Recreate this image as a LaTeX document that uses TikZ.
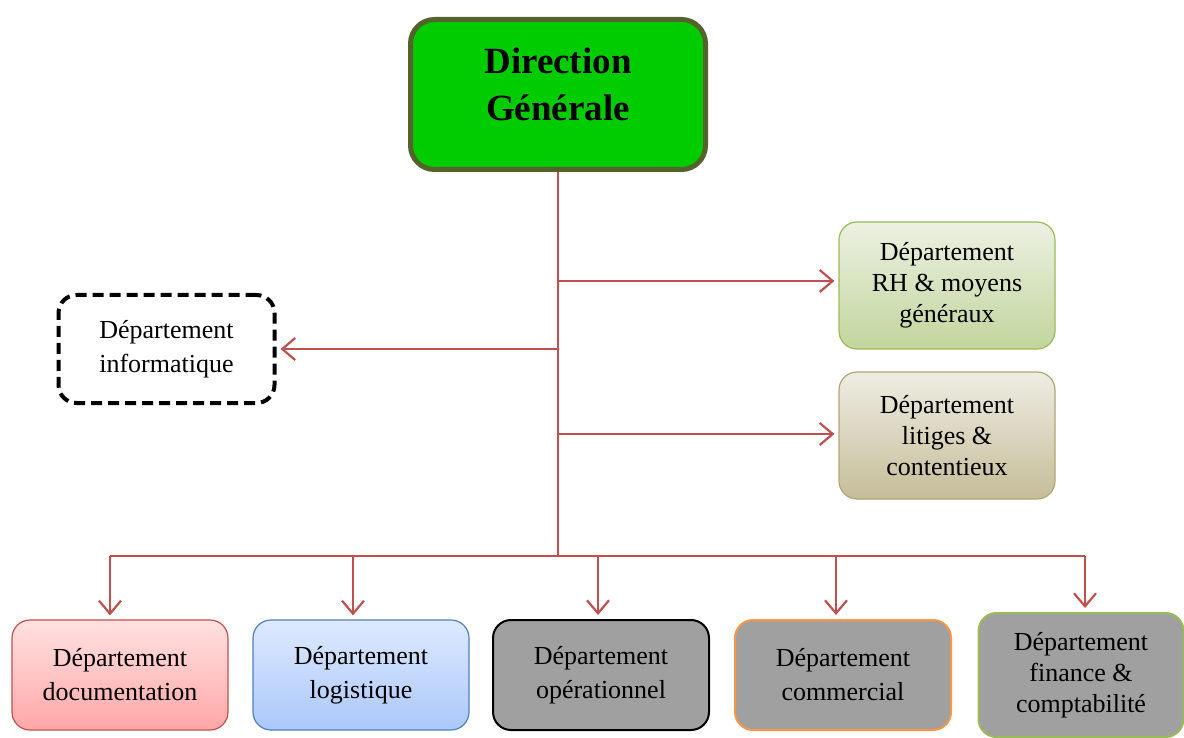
\documentclass[tikz,border=0pt]{standalone}
\usepackage{fontspec}
\setmainfont{Liberation Serif}
\usetikzlibrary{arrows.meta}
\definecolor{linkred}{RGB}{192,80,77}
\definecolor{dgfill}{RGB}{0,204,0}
\definecolor{dgline}{RGB}{84,98,44}
\definecolor{rhtop}{RGB}{236,241,226}
\definecolor{rhbot}{RGB}{194,213,156}
\definecolor{rhline}{RGB}{155,187,89}
\definecolor{littop}{RGB}{239,237,228}
\definecolor{litbot}{RGB}{197,189,152}
\definecolor{litline}{RGB}{176,166,118}
\definecolor{doctop}{RGB}{255,226,226}
\definecolor{docbot}{RGB}{255,166,166}
\definecolor{logtop}{RGB}{222,233,255}
\definecolor{logbot}{RGB}{170,200,250}
\definecolor{logline}{RGB}{79,129,189}
\definecolor{boxgray}{RGB}{160,160,160}
\definecolor{comline}{RGB}{247,150,70}

\begin{document}
\begin{tikzpicture}[x=1pt, y=-1pt, >={Straight Barb[length=13pt,width=22pt]},
  dept/.style={rounded corners=18pt, minimum width=216pt, minimum height=110pt,
    align=center, font=\fontsize{26}{34}\selectfont, line width=1.2pt},
  link/.style={linkred, line width=2.2pt},
  arr/.style={link, ->, shorten >=4pt}]
  \useasboundingbox (0,0) rectangle (1184,738);
  % top
  \node[rounded corners=24pt, minimum width=295pt, minimum height=150pt,
    fill=dgfill, draw=dgline, line width=5pt, align=center,
    font=\fontsize{37}{47}\selectfont\bfseries] (dg) at (558,94.5)
    {Direction\\Générale\\[-26pt]};
  % side departments
  \node[dept, minimum height=127pt, font=\fontsize{26}{31}\selectfont,
    draw=rhline, top color=rhtop, bottom color=rhbot]
    (rh) at (947,285.5) {Département\\RH \& moyens\\généraux};
  \node[dept, minimum height=127pt, font=\fontsize{26}{31}\selectfont,
    draw=litline, top color=littop, bottom color=litbot]
    (lit) at (947,435.5) {Département\\litiges \&\\contentieux};
  \node[dept, minimum width=216pt, minimum height=108pt, draw=black, fill=white,
    line width=4pt, dash pattern=on 11pt off 6pt]
    (info) at (166.5,349) {Département\\informatique};
  % bottom row
  \node[dept, draw=linkred, top color=doctop, bottom color=docbot]
    (doc) at (120,675) {Département\\documentation};
  \node[dept, draw=logline, top color=logtop, bottom color=logbot]
    (log) at (361,675) {Département\\logistique};
  \node[dept, draw=black, fill=boxgray, line width=2pt]
    (ope) at (601,675) {Département\\opérationnel};
  \node[dept, draw=comline, fill=boxgray, line width=2pt]
    (com) at (843,675) {Département\\commercial};
  \node[dept, minimum width=205pt, minimum height=124pt, draw=rhline, fill=boxgray,
    line width=2pt, font=\fontsize{26}{31}\selectfont]
    (fin) at (1081,675) {Département\\finance \&\\comptabilité};
  % links
  \coordinate (bus) at (dg.south |- 0,556);
  \draw[link] (dg.south) -- (bus);
  \draw[arr] ([yshift=4.5pt]rh.west -| dg.south) -- ([yshift=4.5pt]rh.west);
  \draw[arr] (info.east -| dg.south) -- (info.east);
  \draw[arr] ([yshift=1.5pt]lit.west -| dg.south) -- ([yshift=1.5pt]lit.west);
  \draw[link] ([xshift=-10pt]doc.north |- bus) -- ([xshift=4pt]fin.north |- bus);
  \foreach \d/\dx in {doc/-10,log/-8,ope/-3,com/-7,fin/4}
    \draw[arr] ([xshift=\dx pt]\d.north |- bus) -- ([xshift=\dx pt]\d.north);
\end{tikzpicture}
\end{document}
